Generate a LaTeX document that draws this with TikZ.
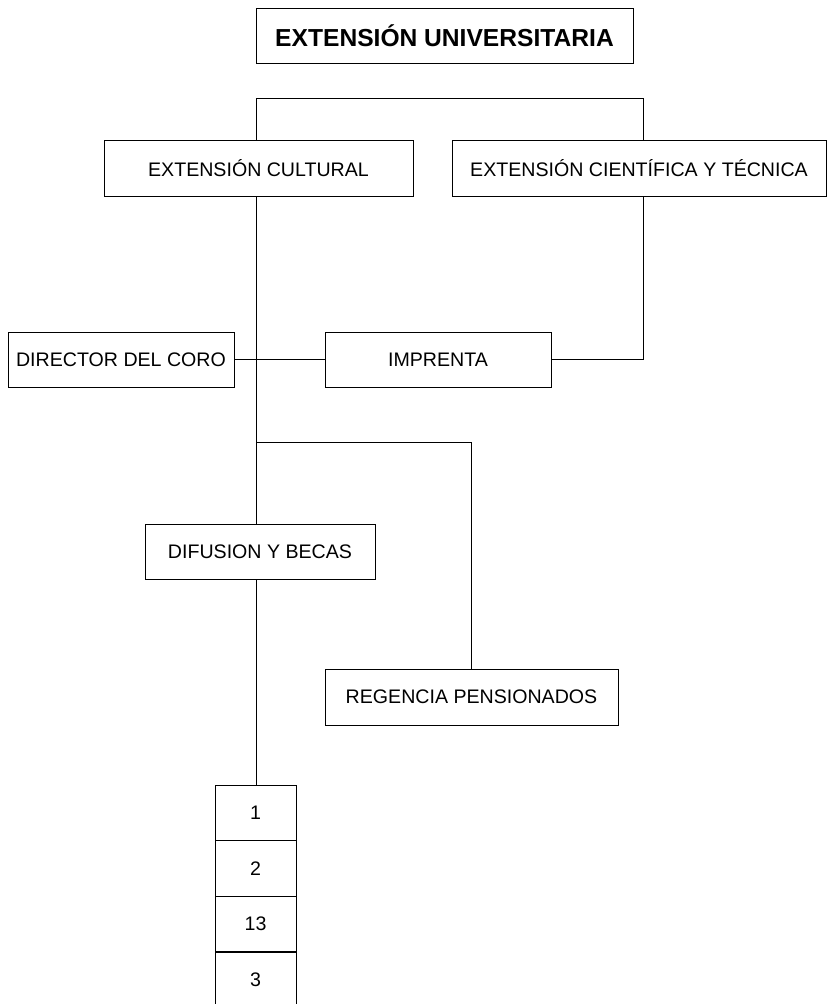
\documentclass[tikz,border=0pt]{standalone}
\usepackage{fontspec}
\setmainfont{Liberation Sans}
\begin{document}
\begin{tikzpicture}[x=1pt,y=-1pt,
  box/.style={draw,line width=1pt,rectangle,inner sep=0pt,anchor=center,font=\fontsize{19.6}{24}\selectfont},
  conn/.style={line width=1pt}]
\useasboundingbox (0,0) rectangle (827,1004);
\node[box,minimum width=377pt,minimum height=55pt,font=\fontsize{24.6}{28}\selectfont\bfseries] (title) at (444.5,35.5) {EXTENSIÓN UNIVERSITARIA};
\node[box,minimum width=309pt,minimum height=56pt] (cult) at (258.5,168) {EXTENSIÓN CULTURAL};
\node[box,minimum width=374pt,minimum height=56pt] (cient) at (639,168) {EXTENSIÓN CIENTÍFICA Y TÉCNICA};
\node[box,minimum width=226pt,minimum height=55pt] (dir) at (121,359.5) {DIRECTOR DEL CORO};
\node[box,minimum width=226pt,minimum height=55pt] (imp) at (438,359.5) {IMPRENTA};
\node[box,minimum width=230pt,minimum height=55pt] (dif) at (260,551.5) {DIFUSION Y BECAS};
\node[box,minimum width=293pt,minimum height=56pt] (reg) at (471.5,697) {REGENCIA PENSIONADOS};
\node[box,minimum width=81pt,minimum height=55.5pt] (s1) at (255.5,813) {1};
\node[box,minimum width=81pt,minimum height=55.5pt] (s2) at (255.5,868.5) {2};
\node[box,minimum width=81pt,minimum height=55.5pt] (s3) at (255.5,924) {13};
\node[box,minimum width=81pt,minimum height=56pt] (s4) at (255.5,980) {3};
\coordinate (sp) at (256,0);
\coordinate (cx) at (643,0);
\coordinate (rx) at (471,0);
\coordinate (top) at (0,98);
\coordinate (mid) at (0,442);
\draw[conn] (cult.north -| sp) |- (top -| cx) -- (cient.north -| cx);
\draw[conn] (cult.south -| sp) -- (dif.north -| sp);
\draw[conn] (dir.east) -- (imp.west);
\draw[conn] (imp.east) -| (cient.south -| cx);
\draw[conn] (mid -| sp) -| (reg.north -| rx);
\draw[conn] (dif.south -| sp) -- (s1.north -| sp);
\end{tikzpicture}
\end{document}
